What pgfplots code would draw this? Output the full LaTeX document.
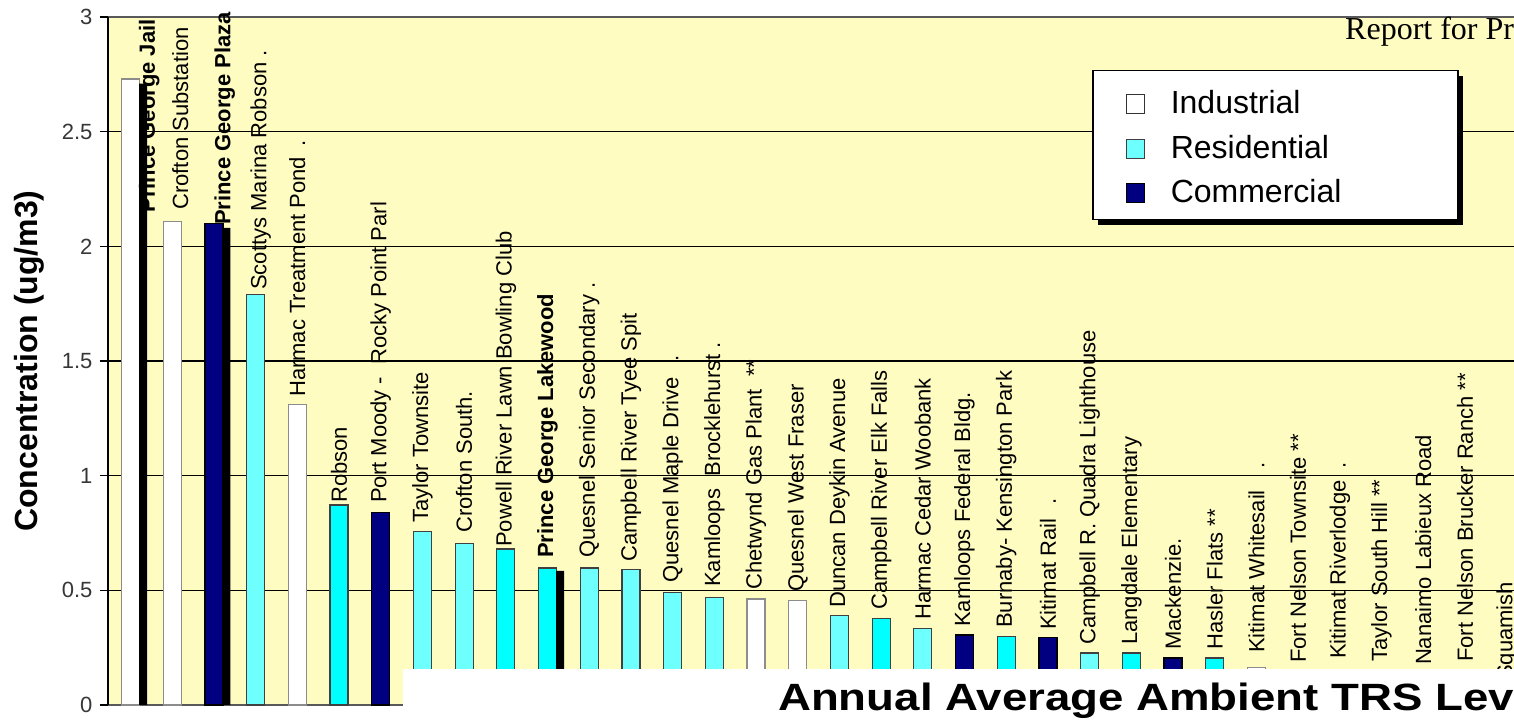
\documentclass[border=0pt]{standalone}
\usepackage{pgfplots}
\pgfplotsset{compat=1.18}
\usepackage{pgfplotstable}
\usepackage{fontspec}
\setmainfont{Liberation Sans}
\newfontfamily\serifrep{Liberation Serif}
\definecolor{plotbg}{RGB}{255,252,194}
\definecolor{resbright}{RGB}{0,255,255}
\definecolor{reslight}{RGB}{110,255,255}
\definecolor{navyc}{RGB}{0,0,128}
\definecolor{ticktxt}{RGB}{55,55,55}

\pgfplotstableread[col sep=comma,row sep=\\]{
lx,ly,lab\\
0.45,2.146,{\textbf{Prince George Jail}}\\
1.19,2.159,{Crofton Substation}\\
2.26,2.093,{\textbf{Prince George Plaza}}\\
3.12,1.810,{Scottys  Marina Robson .}\\
4,1.343,{Harmac Treatment Pond\hspace{10pt}.}\\
5,0.881,{Robson}\\
6,0.881,{Port Moody -\ \ Rocky Point Parl}\\
7,0.794,{Taylor Townsite}\\
8,0.750,{Crofton South.}\\
9,0.689,{Powell River Lawn Bowling Club}\\
10,0.641,{\textbf{Prince George Lakewood}}\\
11,0.641,{Quesnel Senior Secondary .}\\
12,0.624,{Campbell River Tyee Spit}\\
13,0.532,{Quesnel Maple Drive\hspace{16pt}.}\\
14,0.515,{Kamloops\ \ Brocklehurst .}\\
15,0.502,{Chetwynd Gas Plant\ \ **}\\
16,0.493,{Quesnel West Fraser}\\
17,0.423,{Duncan Deykin Avenue}\\
18,0.414,{Campbell River Elk Falls}\\
19,0.371,{Harmac Cedar Woobank}\\
20,0.340,{Kamloops\ Federal Bldg.}\\
21,0.336,{Burnaby- Kensington Park}\\
22,0.327,{Kitimat Rail\hspace{14pt}.}\\
23,0.262,{Campbell R.\ Quadra Lighthouse}\\
24,0.262,{Langdale Elementary}\\
25,0.240,{Mackenzie.}\\
26,0.240,{Hasler Flats **}\\
27,0.227,{Kitimat Whitesail\hspace{22pt}.}\\
28,0.183,{Fort Nelson Townsite **}\\
29,0.200,{Kitimat Riverlodge\hspace{12pt}.}\\
30,0.188,{Taylor South Hill **}\\
31,0.174,{Nanaimo Labieux Road}\\
32,0.188,{Fort Nelson Brucker Ranch **}\\
33,0.109,{Squamish}\\
}\labeltable

\pgfplotsset{
  mylegimg/.style={legend image code/.code={\path[draw=none,fill=none] (0pt,0pt) -- (63pt,0pt); \draw[##1, line width=1.2pt] (19pt,0pt) rectangle (37pt,19pt);}},
}

\begin{document}
\begin{tikzpicture}
\useasboundingbox (0,0) rectangle (1514pt,722pt);
\fill[white] (0,0) rectangle (1514pt,722pt);
\clip (0,0) rectangle (1514pt,722pt);
\begin{axis}[
  at={(108pt,17pt)}, anchor=south west,
  x=41.7pt, y=229.33pt,
  xmin=-0.54, xmax=33.6,
  ymin=0, ymax=3,
  clip=false,
  axis background/.style={fill=plotbg},
  separate axis lines,
  x axis line style={draw=gray!70!black, line width=1.5pt},
  y axis line style={draw=black, line width=1.3pt},
  xtick=\empty,
  ytick={0,0.5,1,1.5,2,2.5,3},
  yticklabel={\mbox{\fontsize{22}{22}\selectfont\color{ticktxt}\pgfmathprintnumber[assume math mode=true]{\tick}\hspace*{4pt}}},
  ytick pos=left,
  tick align=outside,
  major tick length=8pt,
  tick style={black, line width=1.2pt},
  ymajorgrids,
  major grid style={black, line width=1.1pt},
  ylabel={Concentration (ug/m3)},
  every axis y label/.style={at={(axis description cs:-0.0555,0.5)}, rotate=90, anchor=center, font=\bfseries\fontsize{32}{32}\selectfont},
  legend style={at={(axis description cs:0.6912,0.923)}, anchor=north west,
    draw=black, line width=1.5pt, fill=white,
    inner xsep=15pt, inner ysep=8pt, row sep=0.5pt,
    font=\fontsize{32}{32}\selectfont,
    nodes={anchor=base west, inner xsep=0pt, inner ysep=2pt, text height=33pt, text depth=7pt, text width=272pt, align=left}},
]
% legend shadow
\fill[black] (axis description cs:0.6954,0.9142) rectangle (axis description cs:0.9518,0.6977);
% Industrial
\addplot[ybar, bar width=18pt, bar shift=0pt, fill=white, draw=gray!90, line width=1.2pt, mylegimg, legend image post style={draw=black!80}]
  coordinates {(0,2.73) (1,2.11) (4,1.31) (15,0.462) (16,0.455) (27,0.165)};
\addlegendentry{Industrial}
% Residential (light)
\addplot[ybar, bar width=18pt, bar shift=0pt, fill=reslight, draw=black!75, line width=1.2pt, mylegimg]
  coordinates {(3,1.79) (7,0.755) (8,0.705) (11,0.597) (12,0.59) (13,0.49) (14,0.47) (17,0.39) (19,0.335) (23,0.227)};
\addlegendentry{Residential}
% Commercial
\addplot[ybar, bar width=18pt, bar shift=0pt, fill=navyc, draw=black, line width=1.2pt, mylegimg]
  coordinates {(2,2.10) (6,0.84) (20,0.305) (22,0.295) (25,0.205)};
\addlegendentry{Commercial}
% Residential (bright)
\addplot[ybar, bar width=18pt, bar shift=0pt, fill=resbright, draw=black!75, line width=1.2pt, forget plot]
  coordinates {(5,0.872) (9,0.68) (10,0.597) (18,0.378) (21,0.30) (24,0.227) (26,0.205) (28,0.14) (29,0.13) (30,0.12) (31,0.11) (32,0.10) (33,0.08)};
% black shadows
\addplot[ybar, bar width=8pt, bar shift=12.5pt, fill=black, draw=none, forget plot]
  coordinates {(0,2.71) (2,2.08) (10,0.585)};
% labels
\addplot[draw=none, mark=none, forget plot,
  nodes near coords, point meta=explicit symbolic,
  every node near coord/.append style={rotate=90, anchor=west, inner sep=0pt, font=\fontsize{22}{22}\selectfont, text=black}]
  table[x=lx, y=ly, meta=lab] {\labeltable};
\end{axis}
\fill[white] (403pt,0) rectangle (1514pt,53pt);
\node[anchor=base west, inner sep=0pt] at (778pt,11pt) {\scalebox{1.2}[1]{\bfseries\fontsize{38}{38}\selectfont Annual Average Ambient TRS Levels}};
\node[anchor=base west, inner sep=0pt] at (1345pt,682pt) {\serifrep\fontsize{32}{32}\selectfont Report for Pr};
\end{tikzpicture}
\end{document}
